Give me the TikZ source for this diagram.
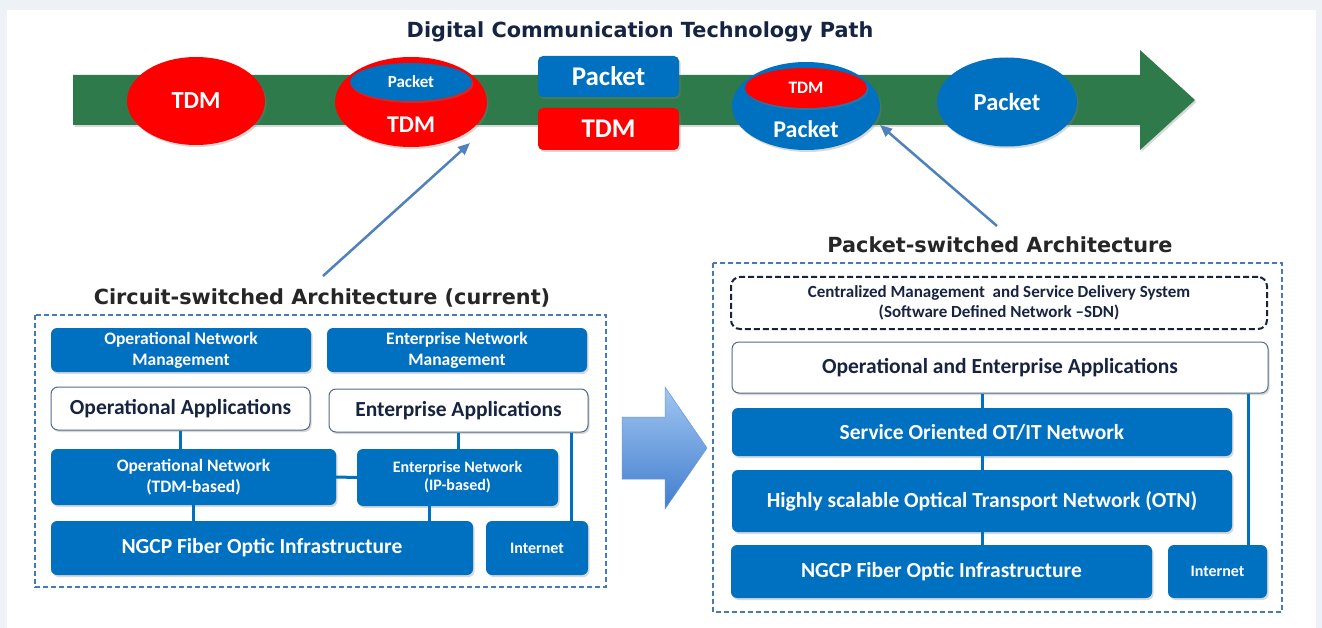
\documentclass[tikz,border=0pt]{standalone}
\usepackage{fontspec}
\setmainfont{Carlito}
\newfontfamily\titlefont{DejaVu Sans}
\usetikzlibrary{arrows.meta,shapes.geometric,shadows,calc}
\definecolor{nblue}{RGB}{0,112,192}
\definecolor{nred}{RGB}{255,0,0}
\definecolor{ngreen}{RGB}{47,122,74}
\definecolor{navy}{RGB}{23,35,64}
\definecolor{tnavy}{RGB}{20,36,66}
\definecolor{lineblue}{RGB}{79,129,189}
\definecolor{dashblue}{RGB}{68,121,190}
\definecolor{bggray}{RGB}{238,242,246}
\definecolor{wborder}{RGB}{84,106,140}
\definecolor{arrtop}{RGB}{160,198,242}
\definecolor{arrbot}{RGB}{66,125,205}
\newcommand\szL{\fontsize{21.5}{25}\selectfont}
\newcommand\szM{\fontsize{17.5}{21}\selectfont}
\newcommand\szS{\fontsize{16}{18}\selectfont}
\tikzset{
  shad/.style={drop shadow={opacity=0.3,shadow xshift=1.5pt,shadow yshift=-2pt}},
  bbox/.style={fill=nblue, rounded corners=6pt, text=white, font=\bfseries, align=center, inner sep=0pt, shad},
  wbox/.style={fill=white, draw=wborder, line width=1pt, rounded corners=7pt, text=navy, font=\bfseries\szL, align=center, inner sep=0pt, shad},
  conn/.style={draw=nblue, line width=3pt},
  outerdash/.style={draw=dashblue, line width=1.5pt, dash pattern=on 5pt off 3pt},
  ttl/.style={font=\titlefont\bfseries\fontsize{20.8}{24}\selectfont, text=tnavy, inner sep=0pt},
  ell/.style={ellipse, inner sep=0pt, text=white, font=\bfseries, shad},
  rbox/.style={rounded corners=5pt, inner sep=0pt, text=white, font=\bfseries\fontsize{27}{30}\selectfont, shad},
  parrow/.style={draw=lineblue, line width=2.5pt, -{Triangle[length=12pt,width=10pt]}},
}
\begin{document}
\begin{tikzpicture}[x=1pt,y=-1pt]
\useasboundingbox (0,0) rectangle (1322,628);
\fill[bggray] (0,0) rectangle (1322,628);
\fill[white] (7,10) rectangle (1316,628);

% title
\node[ttl] (maintitle) at (640,32) {Digital Communication Technology Path};

% green arrow
\fill[ngreen, shad] (73,75) -- (1140,75) -- (1140,50) -- (1195,100) -- (1140,150) -- (1140,125) -- (73,125) -- cycle;

% top symbols
\node[ell, fill=nred, minimum width=138pt, minimum height=88pt, font=\bfseries\fontsize{24.5}{28}\selectfont] (e1) at (196,101) {TDM};
\node[ell, fill=nred, minimum width=152pt, minimum height=90pt] (e2) at (411,102) {};
\node[ell, fill=nblue, minimum width=122pt, minimum height=38pt, font=\bfseries\fontsize{17}{20}\selectfont] (e2i) at (411,82) {Packet};
\node[text=white, font=\bfseries\fontsize{24}{28}\selectfont, inner sep=0pt] (e2t) at (411,125) {TDM};
\node[rbox, fill=nblue, minimum width=141pt, minimum height=41pt] (r1) at (608.5,76.5) {Packet};
\node[rbox, fill=nred, minimum width=141pt, minimum height=42pt] (r2) at (608.5,129) {TDM};
\node[ell, fill=nblue, minimum width=148pt, minimum height=88pt] (e4) at (806,106) {};
\node[ell, fill=nred, minimum width=122pt, minimum height=40pt, font=\bfseries\fontsize{17.5}{20}\selectfont] (e4i) at (806,88) {TDM};
\node[text=white, font=\bfseries\fontsize{24}{28}\selectfont, inner sep=0pt] (e4t) at (806,129) {Packet};
\node[ell, fill=nblue, minimum width=140pt, minimum height=89pt, font=\bfseries\fontsize{24.5}{28}\selectfont] (e5) at (1007,102) {Packet};

% section titles
\node[ttl, text=black!85] (ctitle) at (322,298) {Circuit-switched Architecture (current)};
\node[ttl, text=black!85] (ptitle) at (1000,245) {Packet-switched Architecture};

% pointer arrows
\coordinate (a1s) at (323,276);
\coordinate (a1e) at (470,143);
\coordinate (a2s) at (997,226);
\coordinate (a2e) at (880,125);
\draw[parrow] (a1s) -- (a1e);
\draw[parrow] (a2s) -- (a2e);

% left dashed frame
\draw[outerdash] (35,315) rectangle (606,587);

% left boxes
\node[bbox, minimum width=260pt, minimum height=44pt, font=\bfseries\szM] (onm) at (181,350) {Operational Network\\Management};
\node[bbox, minimum width=260pt, minimum height=44pt, font=\bfseries\szM] (enm) at (457,350) {Enterprise Network\\Management};
\node[wbox, minimum width=259pt, minimum height=43pt] (oa) at (180.5,408.5) {Operational Applications};
\node[wbox, minimum width=259pt, minimum height=43pt] (ea) at (458.5,410.5) {Enterprise Applications};
\node[bbox, minimum width=285pt, minimum height=56pt, font=\bfseries\szM] (on) at (193.5,477) {Operational Network\\(TDM-based)};
\node[bbox, minimum width=201pt, minimum height=57pt, font=\bfseries\szS] (en) at (457.5,477.5) {Enterprise Network\\(IP-based)};
\node[bbox, minimum width=422pt, minimum height=54pt, font=\bfseries\szL] (ngcp1) at (262,548) {NGCP Fiber Optic Infrastructure};
\node[bbox, minimum width=102pt, minimum height=54pt, font=\bfseries\szS] (inet1) at (537,548) {Internet};

% left connectors
\draw[conn] (oa.south) -- (oa.south |- on.north);
\draw[conn] (on.east) -- (en.west);
\draw[conn] (ea.south) -- (ea.south |- en.north);
\draw[conn] (on.south) -- (on.south |- ngcp1.north);
\path ([xshift=-28pt]en.south) coordinate (enb);
\draw[conn] (enb) -- (enb |- ngcp1.north);
\path ([xshift=-17pt]ea.south east) coordinate (eab);
\draw[conn] (eab) -- (eab |- inet1.north);

% transition arrow
\shade[top color=arrtop, bottom color=arrbot, draw=arrbot!80!white, line width=0.5pt] (622,417) -- (665,417) -- (665,387) -- (707,448) -- (665,509) -- (665,479) -- (622,479) -- cycle;

% right dashed frame
\draw[outerdash] (713,263) rectangle (1282,612);

% right boxes
\node[draw=navy, dashed, line width=2pt, dash pattern=on 6pt off 3pt, rounded corners=9pt, text=navy, font=\bfseries\fontsize{17}{20}\selectfont, align=center, inner sep=0pt, minimum width=536pt, minimum height=52pt] (sdn) at (999,303) {Centralized Management\ \ and Service Delivery System\\(Software Defined Network --SDN)};
\node[wbox, minimum width=536pt, minimum height=51pt] (oea) at (1000,367.5) {Operational and Enterprise Applications};
\node[bbox, minimum width=500pt, minimum height=48pt, font=\bfseries\szL] (soa) at (982,432) {Service Oriented OT/IT Network};
\node[bbox, minimum width=500pt, minimum height=62pt, font=\bfseries\szL] (otn) at (982,501) {Highly scalable Optical Transport Network (OTN)};
\node[bbox, minimum width=421pt, minimum height=53pt, font=\bfseries\szL] (ngcp2) at (941.5,571.5) {NGCP Fiber Optic Infrastructure};
\node[bbox, minimum width=99pt, minimum height=53pt, font=\bfseries\szS] (inet2) at (1217.5,571.5) {Internet};

% right connectors
\draw[conn] (soa.north) -- (soa.north |- oea.south);
\draw[conn] (soa.south) -- (otn.north);
\draw[conn] (otn.south) -- (otn.south |- ngcp2.north);
\path ([xshift=-19pt]inet2.north east) coordinate (ib);
\draw[conn] (ib |- oea.south) -- (ib);
\end{tikzpicture}
\end{document}
